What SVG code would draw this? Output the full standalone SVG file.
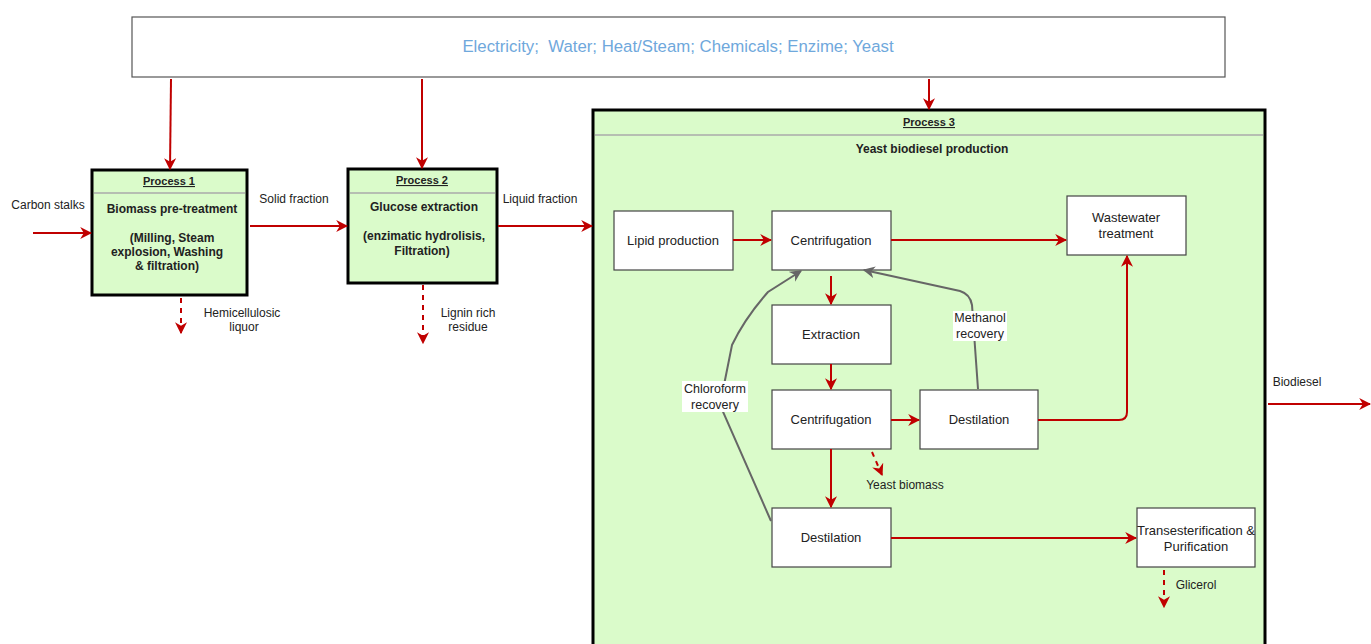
<svg xmlns="http://www.w3.org/2000/svg" width="1371" height="644" viewBox="0 0 1371 644">
<style>
text{font-family:"Liberation Sans",Arial,sans-serif;font-size:12px;fill:#222;}
.c{text-anchor:middle;}
.b{font-weight:bold;}
.t{font-size:13px;}
.h{font-weight:bold;font-size:11px;text-decoration:underline;text-anchor:middle;}
.proc{fill:#dafbca;stroke:#000;stroke-width:3;}
.sep{stroke:#aaa;stroke-width:1.5;}
.box{fill:#fff;stroke:#444;stroke-width:1.2;}
.r{fill:none;stroke:#c00000;stroke-width:2;}
.rd{fill:none;stroke:#c00000;stroke-width:2;stroke-dasharray:5,5;}
.g{fill:none;stroke:#666;stroke-width:2;}
.lbl{fill:#fff;}
</style>
<defs>
<marker id="ar" viewBox="0 0 10 10" refX="9" refY="5" markerWidth="12" markerHeight="12" orient="auto" markerUnits="userSpaceOnUse">
<path d="M0,0 L10,5 L0,10 L3,5 z" fill="#c00000"/>
</marker>
<marker id="ag" viewBox="0 0 10 10" refX="9" refY="5" markerWidth="12" markerHeight="12" orient="auto" markerUnits="userSpaceOnUse">
<path d="M0,0 L10,5 L0,10 L3,5 z" fill="#666"/>
</marker>
</defs>
<rect width="1371" height="644" fill="#fff"/>

<g id="resources">
<rect x="132" y="17" width="1093" height="60" fill="#fff" stroke="#555" stroke-width="1.2"/>
<text x="678" y="52" class="c" style="font-size:16.8px;fill:#6fa8dc;white-space:pre">Electricity;  Water; Heat/Steam; Chemicals; Enzime; Yeast</text>
</g>

<g id="process1">
<rect x="92" y="170" width="155" height="125" class="proc"/>
<line x1="94" y1="193" x2="245" y2="193" class="sep"/>
<text x="169" y="185" class="h">Process 1</text>
<text x="172" y="213" class="c b">Biomass pre-treatment</text>
<text x="172" y="242" class="c b">(Milling, Steam</text>
<text x="167" y="256" class="c b">explosion, Washing</text>
<text x="167" y="270" class="c b">&amp; filtration)</text>
</g>

<g id="process2">
<rect x="348" y="169" width="149" height="114" class="proc"/>
<line x1="350" y1="193" x2="495" y2="193" class="sep"/>
<text x="422" y="184" class="h">Process 2</text>
<text x="424" y="211" class="c b">Glucose extraction</text>
<text x="424" y="240" class="c b">(enzimatic hydrolisis,</text>
<text x="422" y="255" class="c b">Filtration)</text>
</g>

<g id="process3">
<rect x="593" y="110" width="672" height="550" class="proc"/>
<line x1="595" y1="135" x2="1263" y2="135" class="sep"/>
<text x="929" y="126" class="h">Process 3</text>
<text x="932" y="153" class="c b">Yeast biodiesel production</text>
</g>

<g id="lipid"><rect x="614" y="211" width="119" height="59" class="box"/><text x="673" y="245" class="c t">Lipid production</text></g>
<g id="centri1"><rect x="772" y="211" width="119" height="59" class="box"/><text x="831" y="245" class="c t">Centrifugation</text></g>
<g id="wastewater"><rect x="1067" y="196" width="119" height="59" class="box"/><text x="1126" y="222" class="c t">Wastewater</text><text x="1126" y="238" class="c t">treatment</text></g>
<g id="extraction"><rect x="772" y="305" width="119" height="59" class="box"/><text x="831" y="339" class="c t">Extraction</text></g>
<g id="centri2"><rect x="772" y="390" width="119" height="59" class="box"/><text x="831" y="424" class="c t">Centrifugation</text></g>
<g id="destil1"><rect x="920" y="390" width="118" height="59" class="box"/><text x="979" y="424" class="c t">Destilation</text></g>
<g id="destil2"><rect x="772" y="508" width="119" height="59" class="box"/><text x="831" y="542" class="c t">Destilation</text></g>
<g id="trans"><rect x="1137" y="508" width="118" height="59" class="box"/><text x="1196" y="535" class="c t">Transesterification &amp;</text><text x="1196" y="551" class="c t">Purification</text></g>

<g id="connectors">
<path d="M171,79 L170,169" class="r" marker-end="url(#ar)"/>
<path d="M422,79 L422,168" class="r" marker-end="url(#ar)"/>
<path d="M929,79 L929,109" class="r" marker-end="url(#ar)"/>
<path d="M33,233 L91,233" class="r" marker-end="url(#ar)"/>
<path d="M250,226 L347,226" class="r" marker-end="url(#ar)"/>
<path d="M498,226 L592,226" class="r" marker-end="url(#ar)"/>
<path d="M181,298 L181,333" class="rd" marker-end="url(#ar)"/>
<path d="M423,285 L423,343" class="rd" marker-end="url(#ar)"/>
<path d="M733,240 L771,240" class="r" marker-end="url(#ar)"/>
<path d="M891,240 L1066,240" class="r" marker-end="url(#ar)"/>
<path d="M831,276 L831,304" class="r" marker-end="url(#ar)"/>
<path d="M831,364 L831,389" class="r" marker-end="url(#ar)"/>
<path d="M891,420 L919,420" class="r" marker-end="url(#ar)"/>
<path d="M831,449 L831,507" class="r" marker-end="url(#ar)"/>
<path d="M872,452 L882,475" class="rd" marker-end="url(#ar)"/>
<path d="M1038,420 L1119,420 Q1127,420 1127,412 L1127,256" class="r" marker-end="url(#ar)"/>
<path d="M891,538 L1136,538" class="r" marker-end="url(#ar)"/>
<path d="M1164,570 L1164,607" class="rd" marker-end="url(#ar)"/>
<path d="M1268,404 L1370,404" class="r" marker-end="url(#ar)"/>
<path d="M771,521 L720,405 L732,345 Q745,318 768,292 L801,271" class="g" marker-end="url(#ag)"/>
<path d="M978,389 L972,305 Q970,294 960,291 L864,270" class="g" marker-end="url(#ag)"/>
</g>

<g id="labels">
<text x="48" y="209" class="c">Carbon stalks</text>
<text x="294" y="203" class="c">Solid fraction</text>
<text x="540" y="203" class="c">Liquid fraction</text>
<text x="242" y="317" class="c">Hemicellulosic</text>
<text x="244" y="331" class="c">liquor</text>
<text x="468" y="317" class="c">Lignin rich</text>
<text x="468" y="331" class="c">residue</text>
<rect x="682" y="381" width="66" height="31" class="lbl"/>
<text x="715" y="393" class="c" style="font-size:12.5px">Chloroform</text>
<text x="715" y="409" class="c" style="font-size:12.5px">recovery</text>
<rect x="953" y="311" width="54" height="30" class="lbl"/>
<text x="980" y="322" class="c" style="font-size:12.5px">Methanol</text>
<text x="980" y="338" class="c" style="font-size:12.5px">recovery</text>
<text x="905" y="489" class="c">Yeast biomass</text>
<text x="1196" y="589" class="c">Glicerol</text>
<text x="1297" y="386" class="c">Biodiesel</text>
</g>
</svg>
